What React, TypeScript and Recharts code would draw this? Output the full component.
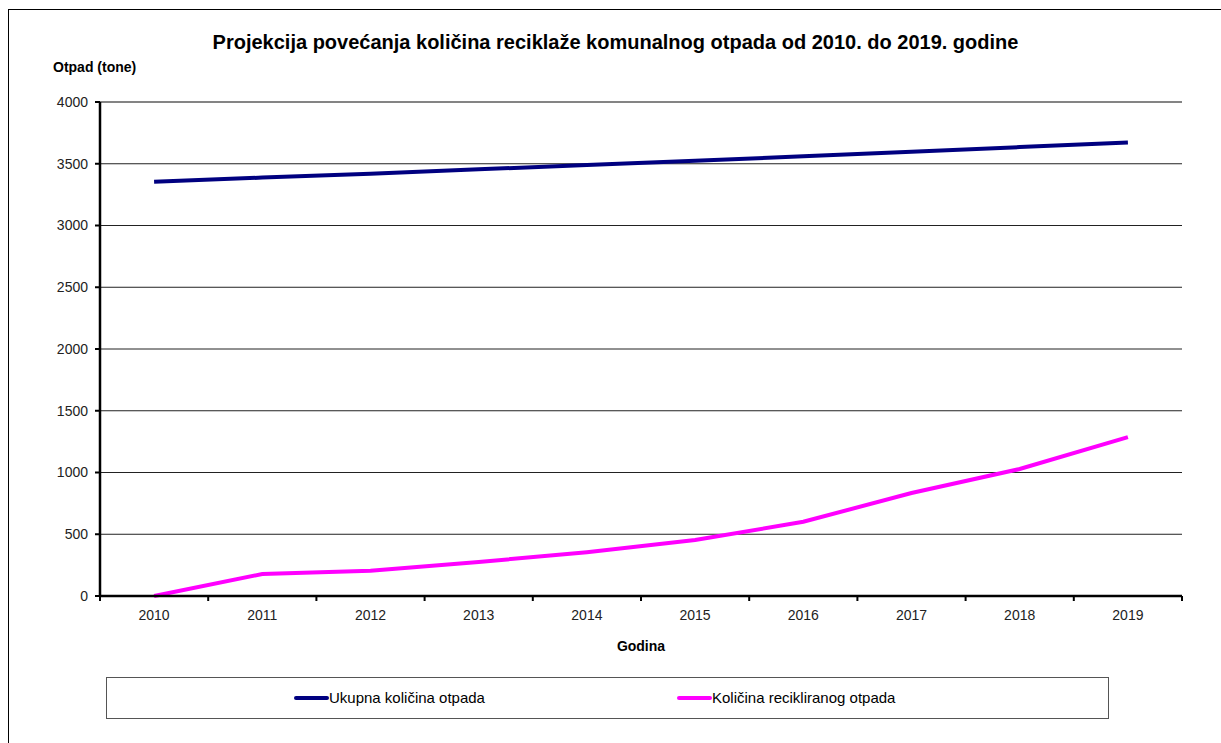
import { LineChart, Line, XAxis, YAxis, CartesianGrid, ReferenceLine } from 'recharts';

const years = ['2010', '2011', '2012', '2013', '2014', '2015', '2016', '2017', '2018', '2019'];
const ukupno = [3355, 3388, 3420, 3455, 3490, 3525, 3560, 3598, 3635, 3672];
const reciklirano = [0, 178, 205, 275, 355, 453, 601, 834, 1028, 1287];
const yTicks = [0, 500, 1000, 1500, 2000, 2500, 3000, 3500, 4000];

const seriesNames = ['Ukupna količina otpada', 'Količina recikliranog otpada'];
const seriesColors = ['#000080', '#ff00ff'];

const W = 1221;
const H = 743;
const PLOT_LEFT = 100;
const PLOT_RIGHT = 1182;
const PLOT_TOP = 102;
const PLOT_BOTTOM = 596;
const FONT = 'Arial, "Liberation Sans", sans-serif';

const data = years.map((year, i) => ({
  year,
  ukupno: ukupno[i],
  reciklirano: reciklirano[i],
}));

const XTick = (props: any) => {
  const { x, payload, index } = props;
  const step = (PLOT_RIGHT - PLOT_LEFT) / years.length;
  return (
    <g>
      <line x1={x - step / 2} x2={x - step / 2} y1={PLOT_BOTTOM} y2={PLOT_BOTTOM + 5} stroke="#000" strokeWidth={2} />
      {index === years.length - 1 && (
        <line x1={x + step / 2} x2={x + step / 2} y1={PLOT_BOTTOM} y2={PLOT_BOTTOM + 5} stroke="#000" strokeWidth={2} />
      )}
      <text x={x} y={PLOT_BOTTOM + 24} textAnchor="middle" fontSize={14} fill="#222" fontFamily={FONT}>
        {payload.value}
      </text>
    </g>
  );
};

export default function App() {
  return (
    <div style={{ position: 'absolute', left: 0, top: 0, width: W, height: H, background: '#fff', overflow: 'hidden', fontFamily: FONT }}>
      <div style={{ position: 'absolute', left: 8, top: 9, width: W, height: H, borderLeft: '1px solid #000', borderTop: '1px solid #000' }} />
      <div style={{ position: 'absolute', left: 5, top: 31, width: W, textAlign: 'center', fontSize: 20, fontWeight: 'bold', color: '#000' }}>
        Projekcija povećanja količina reciklaže komunalnog otpada od 2010. do 2019. godine
      </div>
      <div style={{ position: 'absolute', left: 53, top: 59, fontSize: 14, fontWeight: 'bold', color: '#000' }}>
        Otpad (tone)
      </div>
      <div style={{ position: 'absolute', left: PLOT_LEFT, width: PLOT_RIGHT - PLOT_LEFT, top: 638, textAlign: 'center', fontSize: 14, fontWeight: 'bold', color: '#000' }}>
        Godina
      </div>
      <div style={{ position: 'absolute', left: 0, top: 0 }}>
        <LineChart
          width={W}
          height={H}
          data={data}
          margin={{ top: PLOT_TOP, right: W - PLOT_RIGHT, left: PLOT_LEFT - 60, bottom: H - PLOT_BOTTOM - 30 }}
        >
          <CartesianGrid horizontal vertical={false} stroke="#222" strokeWidth={1} />
          <XAxis
            dataKey="year"
            scale="band"
            height={30}
            tickLine={false}
            axisLine={{ stroke: '#000', strokeWidth: 2.5 }}
            tick={<XTick />}
            interval={0}
          />
          <YAxis
            width={60}
            domain={[0, 4000]}
            ticks={yTicks}
            tickSize={5}
            tickMargin={7}
            tickLine={{ stroke: '#000', strokeWidth: 2 }}
            axisLine={{ stroke: '#000', strokeWidth: 2.5 }}
            tick={{ fontSize: 14, fill: '#222', fontFamily: FONT }}
          />
          <YAxis
            yAxisId="r"
            orientation="right"
            width={0}
            domain={[0, 4000]}
            tick={false}
            tickLine={false}
            axisLine={{ stroke: '#808080', strokeWidth: 1.5 }}
          />
          <ReferenceLine y={4000} stroke="#808080" strokeWidth={1.5} />
          <Line
            type="linear"
            dataKey="ukupno"
            stroke={seriesColors[0]}
            strokeWidth={4}
            dot={false}
            isAnimationActive={false}
          />
          <Line
            type="linear"
            dataKey="reciklirano"
            stroke={seriesColors[1]}
            strokeWidth={4}
            dot={false}
            isAnimationActive={false}
          />
        </LineChart>
      </div>
      <div style={{ position: 'absolute', left: 106, top: 677, width: 1001, height: 40, border: '1px solid #555', background: '#fff' }}>
        {seriesNames.map((name, i) => (
          <div key={name} style={{ position: 'absolute', left: i === 0 ? 187 : 570, top: 11, display: 'flex', alignItems: 'center', fontSize: 15, color: '#000' }}>
            <span style={{ display: 'inline-block', width: 35, height: 4, background: seriesColors[i], borderRadius: 2 }} />
            <span>{name}</span>
          </div>
        ))}
      </div>
    </div>
  );
}
